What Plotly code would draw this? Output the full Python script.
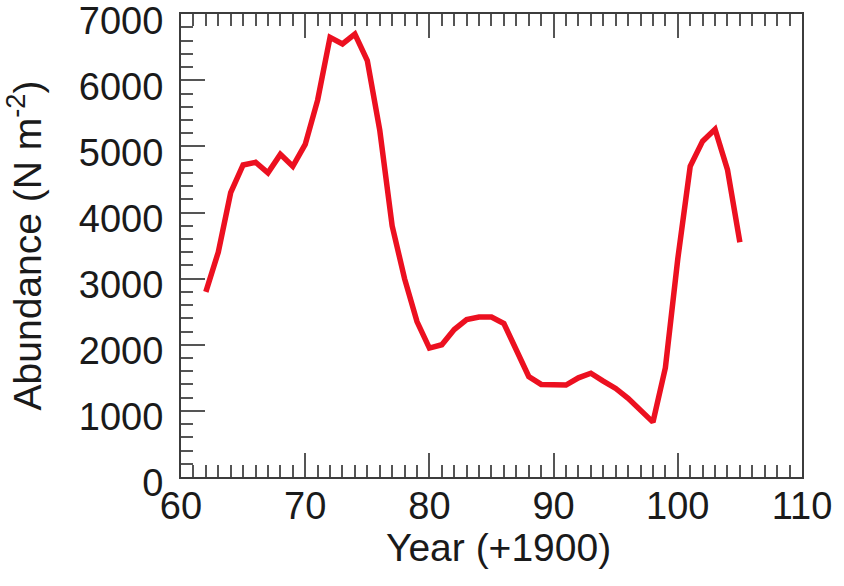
import plotly.graph_objects as go

years = [62, 63, 64, 65, 66, 67, 68, 69, 70, 71, 72, 73, 74, 75, 76, 77, 78, 79, 80,
         81, 82, 83, 84, 85, 86, 87, 88, 89, 90, 91, 92, 93, 94, 95, 96, 97, 98, 99,
         100, 101, 102, 103, 104, 105]
abundance = [2800, 3400, 4300, 4720, 4760, 4600, 4880, 4700, 5030, 5700, 6650, 6550, 6700, 6300, 5250, 3800, 3000, 2350, 1950,
             2000, 2230, 2380, 2420, 2420, 2320, 1930, 1520, 1400, 1390, 1390, 1500, 1570, 1450, 1340, 1190, 1020, 830, 1650,
             3300, 4700, 5080, 5260, 4650, 3550]

x_ticks = [60, 70, 80, 90, 100, 110]
y_ticks = [0, 1000, 2000, 3000, 4000, 5000, 6000, 7000]
x_title = "Year (+1900)"
y_title = "Abundance (N m<sup>-2</sup>)"

fig = go.Figure()
fig.add_trace(go.Scatter(x=years, y=abundance, mode="lines",
                         line=dict(color="#ec1020", width=5.5), showlegend=False))

font_family = "Liberation Sans, Arial, sans-serif"
axis_col = "#3c3c3c"
tick_col = "#555555"
txt_col = "#1a1a1a"

fig.update_layout(
    width=844, height=586,
    margin=dict(l=181, r=42, t=14, b=109),
    paper_bgcolor="white", plot_bgcolor="white",
    font=dict(family=font_family, color=txt_col),
)
fig.update_xaxes(
    range=[60, 110.001], tickvals=x_ticks, ticktext=[str(v) for v in x_ticks],
    automargin=False, ticklabeloverflow="allow",
    showgrid=False, zeroline=False,
    showline=True, linecolor=axis_col, linewidth=2, mirror="ticks",
    ticks="inside", ticklen=24, tickwidth=1.8, tickcolor=tick_col,
    minor=dict(dtick=1, ticks="inside", ticklen=12, tickwidth=1.8, tickcolor=tick_col, showgrid=False),
    tickfont=dict(size=38, family=font_family, color=txt_col),
    ticklabelstandoff=-6,
)
fig.update_yaxes(
    range=[0, 7003], tickvals=y_ticks, ticktext=[str(v) for v in y_ticks],
    automargin=False, ticklabeloverflow="allow",
    showgrid=False, zeroline=False,
    showline=True, linecolor=axis_col, linewidth=2, mirror=True,
    ticks="inside", ticklen=24, tickwidth=1.8, tickcolor=tick_col,
    minor=dict(dtick=200, ticks="inside", ticklen=12, tickwidth=1.8, tickcolor=tick_col, showgrid=False),
    tickfont=dict(size=38, family=font_family, color=txt_col),
    ticklabelstandoff=8, ticklabelshift=6,
    title=dict(text=y_title, font=dict(size=39, family=font_family, color=txt_col), standoff=26),
)
fig.add_annotation(
    text=x_title, xref="paper", yref="paper", x=0.512, y=-0.153,
    xanchor="center", yanchor="middle", showarrow=False,
    font=dict(size=39, family=font_family, color=txt_col),
)

fig.write_html("out.html", config={"displayModeBar": False},
               post_script="document.body.style.margin='0';")
